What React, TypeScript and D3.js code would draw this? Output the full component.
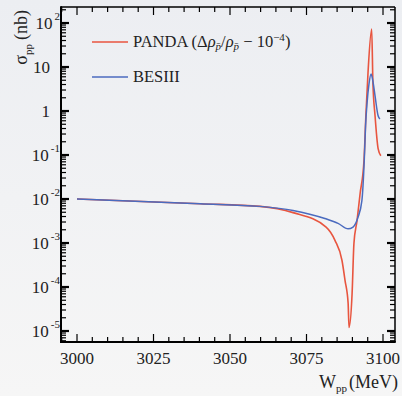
import React from 'react';
import * as d3 from 'd3';

// ---- data ----
const xMajorTicks = [3000, 3025, 3050, 3075, 3100];
const yDecadeExps = [2, 1, 0, -1, -2, -3, -4, -5];

const besiiiW = [3000, 3040.2, 3059.8, 3070.6, 3081.0, 3085.3, 3088.6, 3090.2, 3091.8, 3093.1, 3093.9, 3094.3, 3094.8, 3095.4, 3096.1, 3096.8, 3097.4, 3098.4, 3099.0];
const besiiiS = [0.0100, 0.0078, 0.0068, 0.0055, 0.0036, 0.0028, 0.0021, 0.0023, 0.0038, 0.0092, 0.083, 0.46, 1.55, 4.0, 6.9, 4.3, 2.2, 0.78, 0.66];

const pandaW = [3000, 3040.2, 3059.8, 3070.6, 3081.4, 3084.3, 3086.6, 3087.6, 3088.6, 3088.9, 3089.9, 3090.5, 3091.5, 3092.5, 3093.8, 3094.4, 3095.1, 3096.3, 3096.7, 3097.4, 3098.4, 3099.3];
const pandaS = [0.0100, 0.0078, 0.0068, 0.0049, 0.0023, 0.00115, 0.0004, 0.00014, 4.3e-5, 1.2e-5, 7.1e-5, 0.00098, 0.0032, 0.013, 0.078, 0.78, 7.4, 73, 4.4, 0.78, 0.14, 0.096];

const legendLabels = ['PANDA', 'BESIII'];
const seriesColors = ['#e8553f', '#4b6bbf'];

// ---- layout ----
const WIDTH = 402;
const HEIGHT = 396;
const L = 61, R = 395, T = 7, B = 342;

export default function App() {
  const x = d3.scaleLinear().domain([2994.77, 3103.92]).range([L, R]);
  const y = d3.scaleLog().domain([Math.pow(10, -5.25), Math.pow(10, 2.364)]).range([B, T]);

  const line = d3
    .line<[number, number]>()
    .x((d) => x(d[0]))
    .y((d) => y(d[1]))
    .curve(d3.curveMonotoneX);

  const besData: [number, number][] = besiiiW.map((w, i) => [w, besiiiS[i]]);
  const pandaData: [number, number][] = pandaW.map((w, i) => [w, pandaS[i]]);

  const xMinor = d3.range(2995, 3104, 5).filter((v) => v >= 2994.77 && v <= 3103.92);
  const yMinor: number[] = [];
  for (let e = -6; e <= 2; e++) {
    for (let m = 2; m <= 9; m++) {
      const v = m * Math.pow(10, e);
      if (v >= Math.pow(10, -5.25) && v <= Math.pow(10, 2.364)) yMinor.push(v);
    }
  }

  const font = '"Liberation Serif", "DejaVu Serif", serif';

  return (
    <svg
      width={WIDTH}
      height={HEIGHT}
      style={{ position: 'absolute', left: 0, top: 0, fontFamily: font }}
    >
      <defs>
        <linearGradient id="bg" x1="0" y1="0" x2="0" y2="1">
          <stop offset="0" stopColor="#eceef2" />
          <stop offset="1" stopColor="#f6f6f6" />
        </linearGradient>
      </defs>
      <rect x={0} y={0} width={WIDTH} height={HEIGHT} fill="url(#bg)" />

      {/* curves */}
      <path d={line(pandaData) || ''} fill="none" stroke={seriesColors[0]} strokeWidth={1.6} />
      <path d={line(besData) || ''} fill="none" stroke={seriesColors[1]} strokeWidth={1.5} />

      {/* x ticks */}
      {xMinor.map((v) => {
        const major = xMajorTicks.includes(v);
        const len = major ? 8 : 5;
        return (
          <g key={'xt' + v}>
            <line x1={x(v)} x2={x(v)} y1={B} y2={B - len} stroke="#000" strokeWidth={1.2} />
            <line x1={x(v)} x2={x(v)} y1={T} y2={T + len} stroke="#000" strokeWidth={1.2} />
          </g>
        );
      })}
      {/* y ticks */}
      {yMinor.map((v, i) => (
        <g key={'ym' + i}>
          <line x1={L} x2={L + 5} y1={y(v)} y2={y(v)} stroke="#000" strokeWidth={1.2} />
          <line x1={R} x2={R - 5} y1={y(v)} y2={y(v)} stroke="#000" strokeWidth={1.2} />
        </g>
      ))}
      {yDecadeExps.map((e) => {
        const v = Math.pow(10, e);
        return (
          <g key={'yM' + e}>
            <line x1={L} x2={L + 8} y1={y(v)} y2={y(v)} stroke="#000" strokeWidth={2.2} />
            <line x1={R} x2={R - 8} y1={y(v)} y2={y(v)} stroke="#000" strokeWidth={2.2} />
          </g>
        );
      })}

      {/* frame */}
      <line x1={L} x2={R} y1={T} y2={T} stroke="#000" strokeWidth={1.5} />
      <line x1={R} x2={R} y1={T} y2={B} stroke="#000" strokeWidth={1.5} />
      <line x1={L} x2={L} y1={T - 0.75} y2={B + 1} stroke="#000" strokeWidth={2} />
      <line x1={L - 1} x2={R + 0.75} y1={B} y2={B} stroke="#000" strokeWidth={2} />

      {/* x tick labels */}
      {xMajorTicks.map((v) => (
        <text key={'xl' + v} x={x(v)} y={364} textAnchor="middle" fontSize={17} fill="#222">
          {v}
        </text>
      ))}

      {/* y tick labels */}
      {yDecadeExps.map((e) => {
        const yy = y(Math.pow(10, e)) + 6;
        if (e === 1 || e === 0) {
          return (
            <text key={'yl' + e} x={50} y={yy} textAnchor="end" fontSize={17} fill="#222">
              {e === 1 ? '10' : '1'}
            </text>
          );
        }
        return (
          <text key={'yl' + e} x={60} y={yy} textAnchor="end" fontSize={17} fill="#222">
            10
            <tspan dx={2} dy={-9} fontSize={11}>
              {e < 0 ? '-' + -e : String(e)}
            </tspan>
          </text>
        );
      })}

      {/* axis titles */}
      <text x={398} y={388} textAnchor="end" fontSize={18} fill="#222">
        W
        <tspan dy={4} fontSize={11}>pp</tspan>
        <tspan dy={-4} dx={2}>(MeV)</tspan>
      </text>
      <text transform="translate(27,10) rotate(-90)" textAnchor="end" fontSize={18} fill="#222">
        σ
        <tspan dy={5} fontSize={11}>pp</tspan>
        <tspan dy={-5} dx={4}>(nb)</tspan>
      </text>

      {/* legend */}
      <line x1={92} x2={128} y1={42} y2={42} stroke={seriesColors[0]} strokeWidth={1.6} />
      <text x={133} y={47} fontSize={16.5} fill="#222">
        {legendLabels[0]} (Δ
        <tspan fontStyle="italic">ρ</tspan>
        <tspan dy={3} fontSize={11} fontStyle="italic">p̄</tspan>
        <tspan dy={-3}>/</tspan>
        <tspan fontStyle="italic">ρ</tspan>
        <tspan dy={3} fontSize={11} fontStyle="italic">p̄</tspan>
        <tspan dy={-3}> − 10</tspan>
        <tspan dy={-6} fontSize={11}>−4</tspan>
        <tspan dy={6}>)</tspan>
      </text>
      <line x1={92} x2={128} y1={77} y2={77} stroke={seriesColors[1]} strokeWidth={1.5} />
      <text x={133} y={82} fontSize={16.5} fill="#222">
        {legendLabels[1]}
      </text>
    </svg>
  );
}
